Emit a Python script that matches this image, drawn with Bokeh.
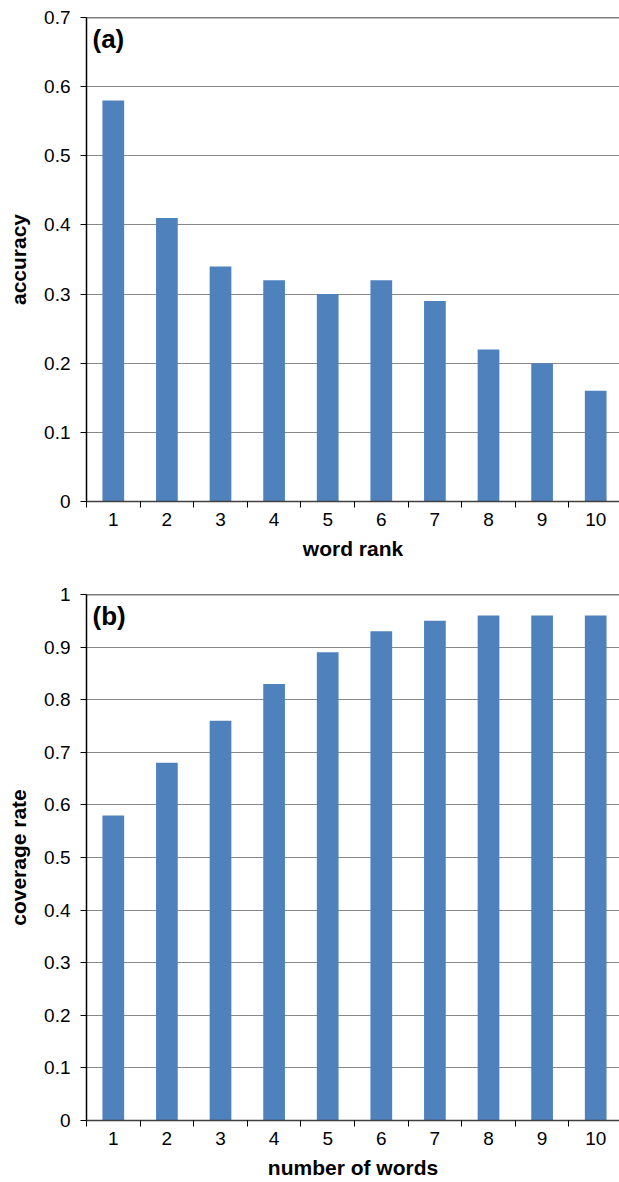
from bokeh.plotting import figure
from bokeh.layouts import column
from bokeh.models import FixedTicker, CustomJSTickFormatter, Span, Label, Range1d
from bokeh.embed import file_html
from bokeh.resources import INLINE

ranks = [1, 2, 3, 4, 5, 6, 7, 8, 9, 10]
accuracy = [0.58, 0.41, 0.34, 0.32, 0.30, 0.32, 0.29, 0.22, 0.20, 0.16]
coverage = [0.58, 0.68, 0.76, 0.83, 0.89, 0.93, 0.95, 0.96, 0.96, 0.96]
acc_ticks = [0, 0.1, 0.2, 0.3, 0.4, 0.5, 0.6, 0.7]
cov_ticks = [0, 0.1, 0.2, 0.3, 0.4, 0.5, 0.6, 0.7, 0.8, 0.9, 1.0]
x_bounds = [0.5, 1.5, 2.5, 3.5, 4.5, 5.5, 6.5, 7.5, 8.5, 9.5, 10.5]

FONT = "Liberation Sans"
BAR = "#4F81BD"


def make(values, yticks, ymax, xlabel, ylabel, tag, height, top, bottom):
    p = figure(width=619, height=height, output_backend="svg", toolbar_location=None,
               x_range=Range1d(0.5, 10.444), y_range=Range1d(0, ymax),
               min_border_left=86, min_border_right=0,
               min_border_top=top, min_border_bottom=bottom)
    p.outline_line_color = None
    p.background_fill_color = "white"
    p.vbar(x=ranks, top=values, width=0.405, fill_color=BAR, line_color=None)

    p.xgrid.visible = False
    p.ygrid.ticker = FixedTicker(ticks=yticks)
    p.ygrid.grid_line_color = "#888888"
    p.ygrid.grid_line_width = 1

    xa = p.xaxis[0]
    xa.ticker = FixedTicker(ticks=ranks, minor_ticks=x_bounds)
    xa.major_tick_out = 0
    xa.major_tick_in = 0
    xa.minor_tick_in = 0
    xa.minor_tick_out = 6
    xa.minor_tick_line_color = "black"
    xa.axis_line_color = "#404040"
    xa.axis_line_width = 1.5
    xa.major_label_text_font = FONT
    xa.major_label_text_font_size = "19px"
    xa.major_label_text_color = "black"
    xa.major_label_standoff = 5
    xa.axis_label = xlabel
    xa.axis_label_text_font = FONT
    xa.axis_label_text_font_style = "bold"
    xa.axis_label_text_font_size = "21px"
    xa.axis_label_text_color = "black"
    xa.axis_label_standoff = 8

    ya = p.yaxis[0]
    ya.ticker = FixedTicker(ticks=yticks)
    ya.formatter = CustomJSTickFormatter(code="return (Math.round(tick*10)/10).toString();")
    ya.major_tick_out = 6
    ya.major_tick_in = 0
    ya.minor_tick_out = 0
    ya.minor_tick_in = 0
    ya.major_tick_line_color = "black"
    ya.axis_line_color = "black"
    ya.axis_line_width = 1.5
    ya.major_label_text_font = FONT
    ya.major_label_text_font_size = "19px"
    ya.major_label_text_color = "black"
    ya.major_label_standoff = 10
    ya.axis_label = ylabel
    ya.axis_label_text_font = FONT
    ya.axis_label_text_font_style = "bold"
    ya.axis_label_text_font_size = "21px"
    ya.axis_label_text_color = "black"
    ya.axis_label_standoff = 11

    p.add_layout(Span(location=ymax, dimension="width", line_color="black", line_width=1.5))
    p.add_layout(Label(x=0.5, y=ymax, x_offset=6, y_offset=-6, text=tag,
                       text_font=FONT, text_font_style="bold", text_font_size="26px",
                       text_baseline="top", text_color="black"))
    return p


p1 = make(accuracy, acc_ticks, 0.7, "word rank", "accuracy", "(a)", 575, 17, 74)
p2 = make(coverage, cov_ticks, 1.0, "number of words", "coverage rate", "(b)", 606, 19, 61)

layout = column(p1, p2, spacing=0)
open("out.html", "w").write(file_html(layout, INLINE))
